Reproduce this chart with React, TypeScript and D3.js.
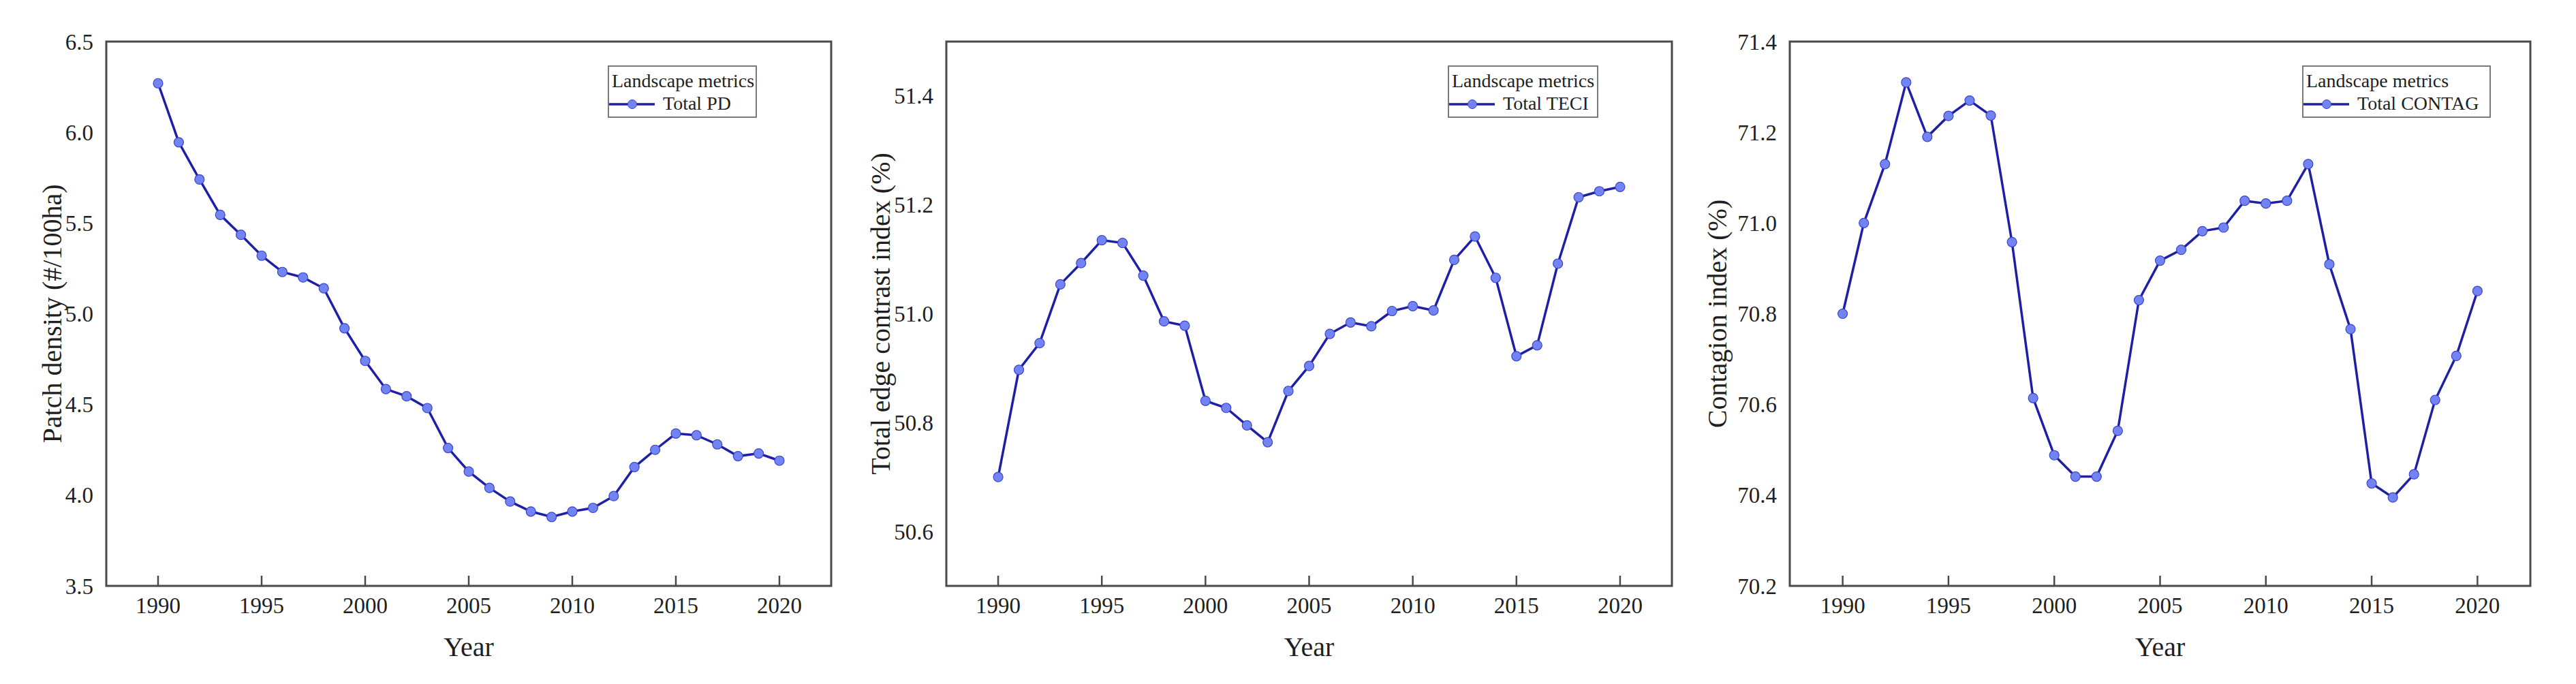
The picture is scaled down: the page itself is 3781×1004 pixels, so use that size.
import React, { useEffect } from "react";
import * as d3 from "d3";

const years = d3.range(1990, 2021);
const xTicks = [1990, 1995, 2000, 2005, 2010, 2015, 2020];

const pdValues = [6.27, 5.945, 5.74, 5.545, 5.435, 5.32, 5.23, 5.2, 5.14, 4.92, 4.74, 4.585, 4.545, 4.48, 4.26, 4.13, 4.04, 3.965, 3.91, 3.88, 3.91, 3.93, 3.995, 4.155, 4.25, 4.34, 4.33, 4.28, 4.215, 4.23, 4.19];
const teciValues = [50.7, 50.897, 50.946, 51.054, 51.093, 51.135, 51.13, 51.07, 50.986, 50.978, 50.84, 50.827, 50.795, 50.764, 50.858, 50.904, 50.963, 50.984, 50.977, 51.005, 51.014, 51.006, 51.099, 51.142, 51.066, 50.922, 50.942, 51.092, 51.214, 51.225, 51.233];
const contagValues = [70.8, 71.0, 71.13, 71.31, 71.19, 71.236, 71.27, 71.237, 70.958, 70.614, 70.488, 70.441, 70.441, 70.542, 70.83, 70.917, 70.941, 70.982, 70.99, 71.049, 71.043, 71.049, 71.13, 70.909, 70.766, 70.426, 70.395, 70.446, 70.61, 70.707, 70.85];

const pdTicks = ["3.5", "4.0", "4.5", "5.0", "5.5", "6.0", "6.5"];
const teciTicks = ["50.6", "50.8", "51.0", "51.2", "51.4"];
const contagTicks = ["70.2", "70.4", "70.6", "70.8", "71.0", "71.2", "71.4"];

const yTitles = ["Patch density (#/100ha)", "Total edge contrast index (%)", "Contagion index (%)"];
const seriesNames = ["Total PD", "Total TECI", "Total CONTAG"];
const legendTitle = "Landscape metrics";
const xTitle = "Year";

const panels = [
  { values: pdValues, ticks: pdTicks, domain: [3.5, 6.5], left: 156, right: 1220, ytx: 76, legX: 893, legW: 217 },
  { values: teciValues, ticks: teciTicks, domain: [50.5, 51.5], left: 1389, right: 2454, ytx: 1292, legX: 2126, legW: 219 },
  { values: contagValues, ticks: contagTicks, domain: [70.2, 71.4], left: 2627, right: 3714, ytx: 2520, legX: 3380, legW: 275 },
];

const TOP = 61;
const BOTTOM = 860;
const FONT = "'Liberation Serif', 'Times New Roman', serif";
const LINE = "#1d1fa6";
const MARK = "#7284f4";
const MARK_STROKE = "#3b45c9";
const FRAME = "#4a4a4a";
const TEXT = "#1f1f1f";

function Panel({ p, i }: { p: any; i: number }) {
  const x = d3.scaleLinear().domain([1987.5, 2022.5]).range([p.left, p.right]);
  const y = d3.scaleLinear().domain(p.domain).range([BOTTOM, TOP]);
  const line = d3
    .line<number>()
    .x((_, k) => x(years[k]))
    .y((v) => y(v));
  const cy = (TOP + BOTTOM) / 2;
  return (
    <g>
      <path d={line(p.values) || ""} fill="none" stroke={LINE} strokeWidth={3.5} />
      {p.values.map((v: number, k: number) => (
        <circle key={k} cx={x(years[k])} cy={y(v)} r={7} fill={MARK} stroke={MARK_STROKE} strokeWidth={1.2} />
      ))}
      <rect x={p.left} y={TOP} width={p.right - p.left} height={BOTTOM - TOP} fill="none" stroke={FRAME} strokeWidth={3} />
      {xTicks.map((t) => (
        <g key={t}>
          <line x1={x(t)} x2={x(t)} y1={BOTTOM} y2={BOTTOM - 15} stroke={FRAME} strokeWidth={2.5} />
          <text x={x(t)} y={900} textAnchor="middle" fontSize={33} fontFamily={FONT} fill={TEXT}>
            {t}
          </text>
        </g>
      ))}
      {p.ticks.map((t: string) => (
        <text key={t} x={p.left - 19} y={y(+t)} dy="0.35em" textAnchor="end" fontSize={33} fontFamily={FONT} fill={TEXT}>
          {t}
        </text>
      ))}
      <text x={(p.left + p.right) / 2} y={963} textAnchor="middle" fontSize={40} fontFamily={FONT} fill={TEXT}>
        {xTitle}
      </text>
      <text
        transform={`translate(${p.ytx},${cy}) rotate(-90)`}
        textAnchor="middle"
        dy="0.35em"
        fontSize={40}
        fontFamily={FONT}
        fill={TEXT}
      >
        {yTitles[i]}
      </text>
      <g transform={`translate(${p.legX},97)`}>
        <rect x={0} y={0} width={p.legW} height={75} fill="#fff" stroke="#7a7a7a" strokeWidth={2} />
        <text x={5} y={31} fontSize={28} fontFamily={FONT} fill={TEXT}>
          {legendTitle}
        </text>
        <line x1={1} x2={68} y1={56} y2={56} stroke={LINE} strokeWidth={3.5} />
        <circle cx={35} cy={56} r={6.5} fill={MARK} stroke={MARK_STROKE} strokeWidth={1} />
        <text x={80} y={64} fontSize={28} fontFamily={FONT} fill={TEXT}>
          {seriesNames[i]}
        </text>
      </g>
    </g>
  );
}

export default function App() {
  useEffect(() => {
    document.body.style.margin = "0";
  }, []);
  return (
    <svg width={3781} height={1004} style={{ position: "absolute", left: 0, top: 0, background: "#fff" }}>
      <rect width={3781} height={1004} fill="#fff" />
      {panels.map((p, i) => (
        <Panel key={i} p={p} i={i} />
      ))}
    </svg>
  );
}
